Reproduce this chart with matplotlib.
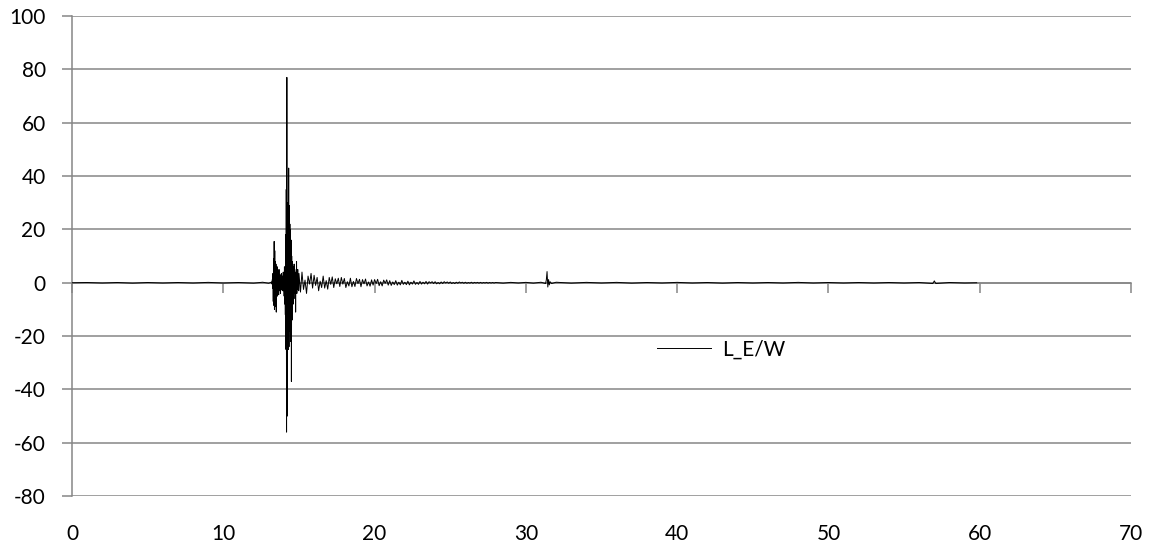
import numpy as np
from matplotlib import pyplot as plt

# quiet part before the event (time s, value)
pre_t = [0.0, 1.0, 2.0, 3.0, 4.0, 5.0, 6.0, 7.0, 8.0, 9.0, 10.0, 11.0, 12.0, 12.6, 13.0]
pre_v = [0.0, 0.1, -0.1, 0.1, -0.15, 0.1, -0.1, 0.1, -0.1, 0.15, -0.1, 0.1, -0.15, 0.2, -0.2]

# main burst, sampled every 0.02 s from 13.20 to 15.00
burst_t0, burst_dt = 13.20, 0.02
burst_v = [0.3, -0.5, 1.2, -2.0, 3.5, -7.0, 9.0, -8.5, 15.5, -10.0,
           12.0, -9.0, 8.0, -6.0, 7.0, -11.0, 5.5, -4.0, 6.0, -5.0,
           4.0, -3.5, 3.0, -4.5, 5.0, -3.0, 2.5, -2.0, 3.0, -4.0,
           2.0, -1.5, 3.5, -2.5, 1.5, -3.0, 2.5, -1.0, 4.0, -3.0,
           2.0, -5.0, 6.0, -8.0, 3.0, -12.0, 18.0, -25.0, 35.0, -56.0,
           77.0, -50.0, 28.0, -20.0, 30.0, -25.0, 43.0, -24.0, 29.0, -18.0,
           22.0, -15.0, 20.0, -22.0, 16.0, -37.0, 10.0, -14.0, 8.0, -6.0,
           6.0, -8.0, 4.0, -3.0, 7.0, -4.0, 5.0, -6.0, 3.0, -11.0,
           4.0, -3.0, 8.0, -4.0, 3.0, -2.0, 5.0, -2.5, 2.0, -3.0, 3.5]

# coda, sampled every 0.1 s from 15.1 to 28.0
coda_t0, coda_dt = 15.1, 0.1
coda_v = [-3.5, 4.0, -2.5, 1.0, -4.0, 2.5, -0.5, 3.5, -2.0, 2.8,
          -1.0, 2.0, -3.0, 0.6, -1.8, 2.5, -2.0, 0.8, -2.4, 2.0,
          -0.6, 2.2, -1.8, 1.5, -0.4, 1.7, -1.4, 2.0, -0.5, 1.6,
          -1.8, 0.4, -1.2, 1.7, -1.5, 0.5, -1.4, 1.6, -0.3, 1.3,
          -1.5, 1.2, -0.4, 1.4, -1.2, 0.3, -1.3, 1.1, -0.9, 1.2,
          -0.3, 1.3, -1.1, 0.4, -1.2, 1.0, -0.2, 1.1, -0.9, 0.8,
          -1.0, 0.3, -0.7, 0.8, -0.9, 0.2, -0.8, 0.9, -0.6, 0.2,
          -0.7, 0.6, -0.8, 0.2, -0.5, 0.7, -0.6, 0.1, -0.6, 0.5,
          -0.5, 0.2, -0.4, 0.5, -0.5, 0.4, -0.1, 0.4, -0.3, 0.4,
          -0.4, 0.1, -0.4, 0.3, -0.3, 0.4, -0.1, 0.3, -0.2, 0.3,
          -0.3, 0.1, -0.3, 0.2, -0.2, 0.3, -0.1, 0.2, -0.2, 0.2,
          -0.2, 0.1, -0.15, 0.2, -0.2, 0.15, -0.1, 0.15, -0.15, 0.15,
          -0.15, 0.1, -0.1, 0.15, -0.15, 0.1, -0.1, 0.1, -0.1, 0.1]

# late part with the small events near 31.4 s and 57 s
late_t = [28.5, 29.0, 29.5, 30.0, 30.5, 31.0, 31.3, 31.35, 31.4, 31.45, 31.5, 31.55, 31.6, 31.7,
          32.0, 33.0, 34.0, 35.0, 36.0, 37.0, 38.0, 39.0, 40.0, 41.0, 42.0, 43.0, 44.0, 45.0,
          46.0, 47.0, 48.0, 49.0, 50.0, 51.0, 52.0, 53.0, 54.0, 55.0, 56.0, 56.9, 57.0, 57.1,
          58.0, 59.0, 59.8]
late_v = [-0.15, 0.15, -0.1, 0.15, -0.15, 0.2, -0.3, 1.0, 4.2, -1.6, 1.2, -0.8, 0.4, -0.3,
          0.2, -0.15, 0.15, -0.1, 0.15, -0.15, 0.1, -0.1, 0.15, -0.1, 0.1, -0.15, 0.1, -0.1,
          0.1, -0.1, 0.15, -0.1, 0.1, -0.1, 0.1, -0.1, 0.1, -0.1, 0.1, -0.3, 0.7, -0.3,
          0.1, -0.1, 0.0]

burst_t = [burst_t0 + i * burst_dt for i in range(len(burst_v))]
coda_t = [coda_t0 + i * coda_dt for i in range(len(coda_v))]
t = np.array(pre_t + burst_t + coda_t + late_t)
v = np.array(pre_v + burst_v + coda_v + late_v)

plt.rcParams['font.family'] = ['Lato', 'DejaVu Sans']
plt.rcParams['axes.unicode_minus'] = False
grey = '#868686'

fig = plt.figure(figsize=(11.51, 5.44), dpi=100)
ax = fig.add_axes([0.0626, 0.088, 0.92, 0.8825])

ax.plot(t, v, color='black', linewidth=0.7, label='L_E/W', zorder=3)

ax.set_xlim(0, 70)
ax.set_ylim(-80, 100)
ax.set_xticks(range(0, 71, 10))
ax.set_yticks(range(-80, 101, 20))
ax.yaxis.grid(True, color=grey, linewidth=1.1)
ax.set_axisbelow(True)

for side in ('top', 'right'):
    ax.spines[side].set_visible(False)
ax.spines['left'].set_color(grey)
ax.spines['left'].set_linewidth(1.1)
ax.spines['bottom'].set_position(('data', 0))
ax.spines['bottom'].set_color(grey)
ax.spines['bottom'].set_linewidth(1.1)

ax.tick_params(axis='y', direction='out', length=7, width=1.1, color=grey,
               labelsize=15, pad=12)
ax.tick_params(axis='x', direction='out', length=7, width=1.1, color=grey,
               labelsize=15, pad=167)

ax.legend(loc='center left', bbox_to_anchor=(0.535, 0.305), frameon=False,
          fontsize=15, handlelength=2.6, handletextpad=0.5)

plt.savefig('out.png', dpi=100)
